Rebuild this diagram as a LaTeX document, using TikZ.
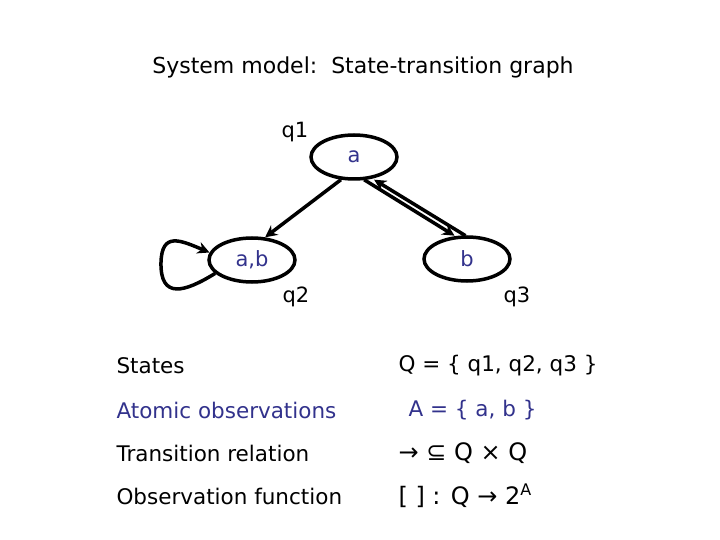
\documentclass[tikz,border=0pt]{standalone}
\usepackage{fontspec}
\setmainfont{DejaVu Sans}
\usetikzlibrary{arrows.meta,shapes.geometric}
\definecolor{obs}{RGB}{50,50,140}
\begin{document}
\begin{tikzpicture}[x=1pt,y=-1pt,
  st/.style={draw,line width=3.5pt,ellipse,minimum width=86pt,minimum height=44pt,inner sep=0pt,text=obs,font=\fontsize{21}{24}\selectfont},
  arr/.style={line width=3.5pt,-{Stealth[length=12pt,width=12pt]}},
  lab/.style={font=\fontsize{21}{24}\selectfont},
  txt/.style={font=\fontsize{21.5}{24}\selectfont,anchor=west}]
\useasboundingbox (0,0) rectangle (720,540);
\node[lab,font=\fontsize{22}{26}\selectfont] (title) at (363,67) {System model:\ \ State-transition graph};
\node[st] (q1) at (354,157) {a};
\node[st] (q2) at (252,260) {a,b};
\node[st] (q3) at (467,259) {b};
\node[lab] (l1) at (295,132) {q1};
\node[lab] (l2) at (296,297) {q2};
\node[lab] (l3) at (517,297) {q3};
\draw[arr] (q1.240) -- (q2.60);
\draw[arr] ([xshift=-3pt]q1.300) -- ([xshift=-4pt]q3.110);
\draw[arr] ([xshift=7pt]q3.110) -- ([xshift=7pt]q1.300);
\draw[arr] (q2.200) .. controls (185,292) and (160,300) .. (161,262) .. controls (162,232) and (180,240) .. (q2.170);
\node[txt] (s1) at (113,366) {States};
\node[txt] (s2) at (113,410) {\color{obs}Atomic observations};
\node[txt] (s3) at (113,453) {Transition relation};
\node[txt] (s4) at (113,496) {Observation function};
\node[txt] (v1) at (395,366) {Q = \{ q1, q2, q3 \}};
\node[txt] (v2) at (405,410) {\color{obs}A = \{ a, b \}};
\node[txt,font=\fontsize{24}{26}\selectfont] (v3) at (395,453) {→ ⊆ Q × Q};
\node[txt,font=\fontsize{24}{26}\selectfont] (v4) at (395,496) {[ ] : Q → 2\textsuperscript{\fontsize{16}{16}\selectfont A}};
\end{tikzpicture}
\end{document}
